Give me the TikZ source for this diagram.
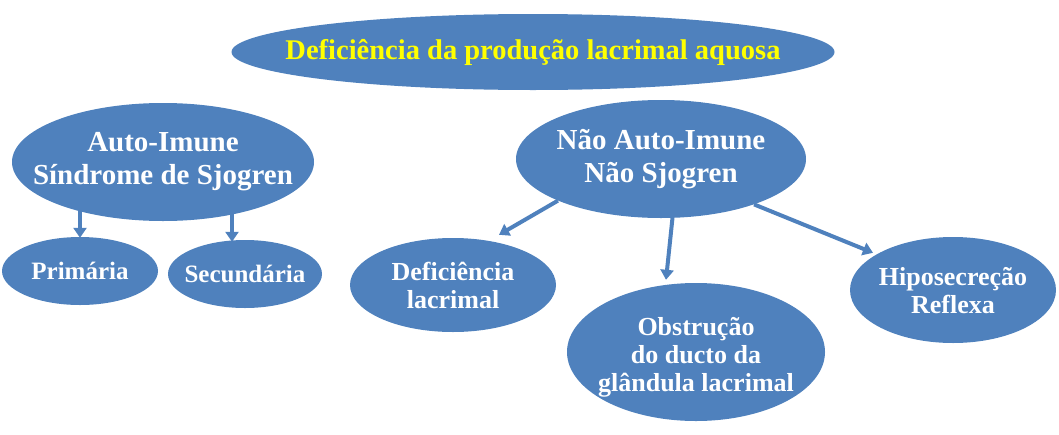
\documentclass[tikz,border=0pt]{standalone}
\usepackage{fontspec}
\usepackage{graphicx}
\setmainfont{Liberation Serif}
\usetikzlibrary{shapes.geometric,arrows.meta,calc}
\definecolor{nodeblue}{HTML}{4F81BD}
\definecolor{titleyellow}{HTML}{FFFF00}
\begin{document}
\begin{tikzpicture}[x=1pt,y=-1pt,
  blob/.style={ellipse, fill=nodeblue, inner sep=0pt},
  txt/.style={text=white, font=\bfseries\fontsize{29}{33}\selectfont, align=center, inner sep=0pt},
  ltxt/.style={text=white, font=\bfseries\fontsize{25}{28}\selectfont, align=center, inner sep=0pt},
  stxt/.style={text=white, font=\bfseries\fontsize{26}{28}\selectfont, align=center, inner sep=0pt},
  arr/.style={draw=nodeblue, line width=4pt, -{Triangle[width=13pt,length=10pt]}}]
\useasboundingbox (0,0) rectangle (1059,434);
% title
\node[blob, minimum width=603pt, minimum height=76pt,
  label={[text=titleyellow, font=\bfseries\fontsize{28.5}{32}\selectfont, inner sep=0pt]center:Deficiência da produção lacrimal aquosa}] (title) at (533,52) {};
% left branch
\node[blob, minimum width=302pt, minimum height=118pt,
  label={[txt]center:Auto-Imune\\Síndrome de Sjogren}] (auto) at (163,162) {};
\node[blob, minimum width=156pt, minimum height=68pt,
  label={[ltxt]center:Primária}] (prim) at (80,271) {};
\node[blob, minimum width=154pt, minimum height=68pt,
  label={[ltxt]center:Secundária}] (sec) at (245,274) {};
% right branch
\node[blob, minimum width=290pt, minimum height=118pt,
  label={[txt]center:Não Auto-Imune\\Não Sjogren}] (nao) at (661,159) {};
\node[blob, minimum width=206pt, minimum height=94pt,
  label={[stxt]center:Deficiência\\lacrimal}] (defl) at (453,285) {};
\node[blob, minimum width=258pt, minimum height=138pt,
  label={[stxt, yshift=-5pt]center:Obstrução\\do ducto da\\glândula lacrimal}] (obst) at (696,352) {};
\node[blob, minimum width=206pt, minimum height=106pt,
  label={[stxt, yshift=-1pt]center:Hiposecreção\\Reflexa}] (hipo) at (953,290) {};
% arrows
\draw[arr] ($(prim.north |- auto.south)+(0,-14)$) -- ([yshift=-1pt]prim.north);
\draw[arr] ($([xshift=-13pt]sec.north |- auto.south)+(0,-14)$) -- ([xshift=-13pt,yshift=-2pt]sec.north);
\draw[arr] (nao.-158.7) -- ([xshift=46pt,yshift=3pt]defl.north);
\draw[arr] (nao.-79.9) -- ([xshift=-30pt,yshift=3pt]obst.north);
\draw[arr] (nao.-26.3) -- ([xshift=-80pt,yshift=-16pt]hipo.north);
\end{tikzpicture}
\end{document}
